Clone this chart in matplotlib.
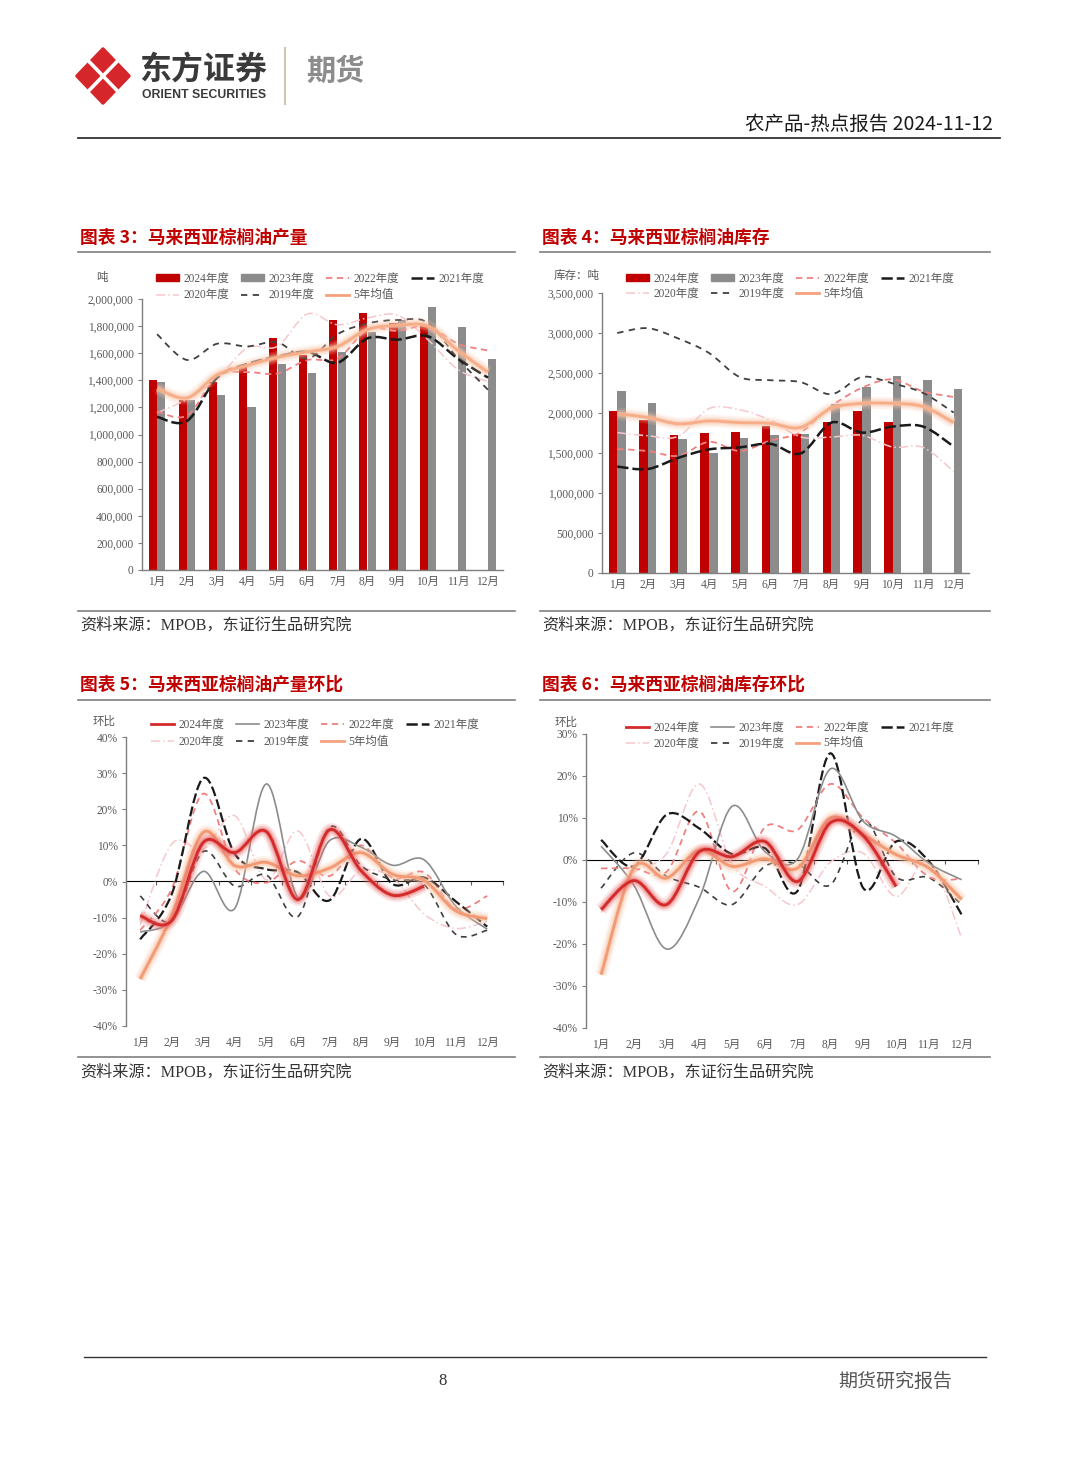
import numpy as np
import matplotlib
matplotlib.use('Agg')
import matplotlib.pyplot as plt
from matplotlib.path import Path
from matplotlib.patches import PathPatch, Polygon, Patch
from matplotlib.lines import Line2D
import matplotlib.patheffects as pe
from matplotlib.ticker import FuncFormatter, MultipleLocator

CJK = 'Noto Sans CJK SC'
SERIF = ['Liberation Serif', CJK]
plt.rcParams['font.family'] = [CJK, 'DejaVu Sans']

# ---------------- data ----------------
months = ['1月', '2月', '3月', '4月', '5月', '6月', '7月', '8月', '9月', '10月', '11月', '12月']
years = ['2024年度', '2023年度', '2022年度', '2021年度', '2020年度', '2019年度', '5年均值']

# Chart 3: Malaysia palm oil production (tonnes)
prod_2024 = [1400000, 1255000, 1388000, 1495000, 1710000, 1590000, 1845000, 1893000, 1825000, 1800000]
prod_2023 = [1385000, 1255000, 1290000, 1200000, 1518000, 1452000, 1610000, 1757000, 1845000, 1940000, 1790000, 1555000]
prod_2022 = [1170000, 1140000, 1430000, 1460000, 1450000, 1550000, 1560000, 1775000, 1765000, 1800000, 1670000, 1620000]
prod_2021 = [1130000, 1100000, 1420000, 1520000, 1575000, 1610000, 1530000, 1710000, 1700000, 1725000, 1560000, 1420000]
prod_2020 = [1160000, 1260000, 1410000, 1640000, 1650000, 1890000, 1810000, 1860000, 1880000, 1700000, 1480000, 1390000]
prod_2019 = [1740000, 1550000, 1670000, 1650000, 1680000, 1560000, 1740000, 1820000, 1845000, 1825000, 1560000, 1330000]
prod_avg = [1340000, 1270000, 1440000, 1510000, 1570000, 1610000, 1650000, 1775000, 1805000, 1800000, 1620000, 1460000]

# Chart 4: Malaysia palm oil stocks (tonnes)
stk_2024 = [2025000, 1917000, 1720000, 1754000, 1763000, 1840000, 1733000, 1888000, 2020000, 1888000]
stk_2023 = [2275000, 2125000, 1680000, 1505000, 1690000, 1730000, 1740000, 2117000, 2325000, 2458000, 2417000, 2304000]
stk_2022 = [1550000, 1525000, 1465000, 1640000, 1525000, 1655000, 1760000, 2085000, 2315000, 2420000, 2270000, 2200000]
stk_2021 = [1330000, 1300000, 1440000, 1545000, 1570000, 1615000, 1495000, 1880000, 1755000, 1830000, 1830000, 1580000]
stk_2020 = [1755000, 1715000, 1710000, 2055000, 2040000, 1910000, 1700000, 1700000, 1720000, 1575000, 1570000, 1270000]
stk_2019 = [3000000, 3060000, 2930000, 2750000, 2450000, 2410000, 2385000, 2235000, 2450000, 2370000, 2250000, 2005000]
stk_avg = [1990000, 1945000, 1865000, 1900000, 1880000, 1870000, 1820000, 2060000, 2120000, 2120000, 2080000, 1880000]

# Chart 5: production month-on-month (%)
pmom_2024 = [-9.5, -10.8, 10.8, 8.0, 13.8, -5.0, 14.3, 3.0, -3.8, -1.3]
pmom_2023 = [-14.0, -11.0, 2.8, -7.4, 27.0, -4.4, 11.3, 9.5, 4.5, 6.0, -6.8, -13.2]
pmom_2022 = [-13.5, -2.0, 24.3, 3.5, -0.3, 5.7, 1.5, 10.0, 1.0, 2.5, -7.5, -4.0]
pmom_2021 = [-16.0, -3.5, 28.6, 7.6, 3.4, 2.5, -5.2, 11.8, -0.7, 1.1, -5.5, -12.5]
pmom_2020 = [-12.0, 10.4, 9.0, 18.2, 0.5, 14.0, -4.0, 3.0, 1.0, -9.0, -13.0, -11.0]
pmom_2019 = [-4.0, -11.0, 8.3, -1.3, 1.8, -9.7, 15.0, 4.4, 0.5, -0.8, -14.6, -13.5]
pmom_avg = [-27.0, -9.5, 13.6, 4.4, 5.3, 1.6, 3.7, 8.0, 2.0, 0.3, -8.1, -10.3]

# Chart 6: stocks month-on-month (%)
smom_2024 = [-11.8, -4.9, -10.6, 2.0, 0.8, 4.4, -5.1, 8.9, 5.8, -6.3]
smom_2023 = [3.3, -6.0, -21.2, -9.0, 12.8, 2.0, 0.3, 21.7, 9.2, 5.6, -0.8, -4.7]
smom_2022 = [-2.0, -2.0, -2.8, 11.6, -7.5, 7.8, 7.2, 18.1, 10.0, 4.0, -4.0, -4.5]
smom_2021 = [4.8, -1.5, 10.8, 7.5, 1.4, 2.8, -7.3, 25.4, -6.7, 4.4, -0.3, -13.0]
smom_2020 = [-12.5, -3.0, 1.5, 18.1, -1.0, -6.3, -10.6, -0.5, 1.6, -8.7, -0.3, -18.5]
smom_2019 = [-6.7, 1.7, -3.9, -6.5, -10.6, -1.5, -1.0, -5.9, 9.6, -4.0, -4.2, -10.6]
smom_avg = [-27.3, -1.9, -4.3, 2.3, -1.5, 0.3, -1.9, 10.0, 6.0, 1.3, -1.9, -9.4]

# ---------------- styles ----------------
C24 = '#C00000'
C23 = '#8C8C8C'
C22 = '#F08080'
C21 = '#1A1A1A'
C20 = '#F6C7CC'
C19 = '#404040'
CAVG = '#F5A27C'
TXT = '#595959'
FS = 8.3

W, H = 1080, 1466
fig = plt.figure(figsize=(W / 100, H / 100), dpi=100)
fig.patch.set_facecolor('white')


def fx(px):
    return px / W


def fy(py):
    return 1 - py / H


def rect(l, t, r, b):
    return [l / W, 1 - b / H, (r - l) / W, (b - t) / H]


def smooth_path(xs, ys):
    pts = np.column_stack([xs, ys]).astype(float)
    n = len(pts)
    verts = [pts[0]]
    codes = [Path.MOVETO]
    for i in range(n - 1):
        p0 = pts[i - 1] if i > 0 else pts[i]
        p1 = pts[i]
        p2 = pts[i + 1]
        p3 = pts[i + 2] if i + 2 < n else pts[i + 1]
        c1 = p1 + (p2 - p0) / 6.0
        c2 = p2 - (p3 - p1) / 6.0
        verts += [c1, c2, p2]
        codes += [Path.CURVE4] * 3
    return Path(verts, codes)


def draw_line(ax, ys, color, lw, ls='-', glow=None, z=3):
    xs = np.arange(len(ys))
    patch = PathPatch(smooth_path(xs, ys), fill=False, edgecolor=color, lw=lw,
                      linestyle=ls, zorder=z, capstyle='butt', joinstyle='round')
    if glow is not None:
        patch.set_path_effects([
            pe.Stroke(linewidth=lw + 7, foreground=glow, alpha=0.18),
            pe.Stroke(linewidth=lw + 4, foreground=glow, alpha=0.3),
            pe.Stroke(linewidth=lw + 1.5, foreground=glow, alpha=0.5),
            pe.Normal()])
    ax.add_patch(patch)


LS22 = (0, (3.5, 2.5))
LS21 = (0, (4.5, 1.6))
LS20 = (0, (6, 2, 1, 2))
LS19 = (0, (3.5, 3.0))


def line_handles(first_handles):
    h22 = Line2D([], [], color=C22, lw=1.3, ls=LS22)
    h21 = Line2D([], [], color=C21, lw=1.8, ls=LS21)
    h20 = Line2D([], [], color=C20, lw=1.1, ls=LS20)
    h19 = Line2D([], [], color=C19, lw=1.3, ls=LS19)
    havg = Line2D([], [], color=CAVG, lw=2.0)
    h24, h23 = first_handles
    hs = [h24, h20, h23, h19, h22, havg, h21]
    labs = [years[0], years[4], years[1], years[5], years[2], years[6], years[3]]
    return hs, labs


def style_axes(ax, xlim):
    ax.set_xlim(*xlim)
    for s in ['top', 'right']:
        ax.spines[s].set_visible(False)
    for s in ['left', 'bottom']:
        ax.spines[s].set_color('#7F7F7F')
        ax.spines[s].set_linewidth(1.0)
    ax.set_xticks(np.arange(12))
    ax.set_xticklabels(months, family=SERIF, fontsize=FS, color=TXT)
    ax.tick_params(axis='x', length=0, pad=4)
    ax.tick_params(axis='y', length=3, width=0.8, color='#7F7F7F', pad=3,
                   labelsize=FS, labelcolor=TXT)
    for lab in ax.get_yticklabels():
        lab.set_family(SERIF)
    ax.set_facecolor('none')


def add_legend(ax, hs, labs, x, y, colspace, lsp):
    ax.legend(hs, labs, ncol=4, loc='upper left', bbox_to_anchor=(fx(x), fy(y)),
              bbox_transform=fig.transFigure, frameon=False,
              prop={'family': SERIF, 'size': FS}, handlelength=2.0, handleheight=0.55,
              handletextpad=0.35, columnspacing=colspace, borderpad=0, borderaxespad=0,
              labelspacing=lsp, labelcolor=TXT)


# ---------------- chart 3: production bars ----------------
ax1 = fig.add_axes(rect(142, 299, 503, 570))
x24 = np.arange(len(prod_2024))
x23 = np.arange(len(prod_2023))
ax1.bar(x24 - 0.14, prod_2024, width=0.27, color=C24, zorder=2)
ax1.bar(x23 + 0.14, prod_2023, width=0.27, color=C23, zorder=2)
draw_line(ax1, prod_2020, C20, 1.1, LS20)
draw_line(ax1, prod_2022, C22, 1.3, LS22)
draw_line(ax1, prod_2019, C19, 1.3, LS19)
draw_line(ax1, prod_2021, C21, 1.8, LS21)
draw_line(ax1, prod_avg, '#F7AE88', 2.0, glow='#F9C4A8', z=4)
ax1.set_ylim(0, 2000000)
ax1.yaxis.set_major_locator(MultipleLocator(200000))
ax1.yaxis.set_major_formatter(FuncFormatter(lambda v, p: f'{v:,.0f}'))
style_axes(ax1, (-0.5, 11.5))
hs, labs = line_handles([Patch(color=C24), Patch(color=C23)])
add_legend(ax1, hs, labs, 156, 273, 1.05, 0.38)
fig.text(fx(96), fy(278), '吨', fontsize=FS, color=TXT, va='center')

# ---------------- chart 4: stocks bars ----------------
ax2 = fig.add_axes(rect(602, 293, 969, 573))
s24 = np.arange(len(stk_2024))
s23 = np.arange(len(stk_2023))
ax2.bar(s24 - 0.14, stk_2024, width=0.28, color=C24, zorder=2)
ax2.bar(s23 + 0.14, stk_2023, width=0.28, color=C23, zorder=2)
draw_line(ax2, stk_2020, C20, 1.1, LS20)
draw_line(ax2, stk_2022, C22, 1.3, LS22)
draw_line(ax2, stk_2019, C19, 1.3, LS19)
draw_line(ax2, stk_2021, C21, 1.8, LS21)
draw_line(ax2, stk_avg, '#F7AE88', 2.0, glow='#F9C4A8', z=4)
ax2.set_ylim(0, 3500000)
ax2.yaxis.set_major_locator(MultipleLocator(500000))
ax2.yaxis.set_major_formatter(FuncFormatter(lambda v, p: f'{v:,.0f}'))
style_axes(ax2, (-0.5, 11.5))
hs, labs = line_handles([Patch(color=C24), Patch(color=C23)])
add_legend(ax2, hs, labs, 626, 273, 1.05, 0.22)
fig.text(fx(554), fy(275), '库存：吨', fontsize=FS, color=TXT, va='center')


# ---------------- MoM charts ----------------
def mom_chart(r, data, ylim, xlim, legxy, lsp, unitxy):
    ax = fig.add_axes(r)
    d24, d23, d22, d21, d20, d19, davg = data
    draw_line(ax, d20, C20, 1.1, LS20)
    draw_line(ax, d19, C19, 1.2, LS19)
    draw_line(ax, d22, C22, 1.3, LS22)
    draw_line(ax, d21, C21, 1.6, LS21)
    draw_line(ax, d23, C23, 1.2)
    draw_line(ax, davg, '#F39A74', 2.0, glow='#F8C0A0', z=4)
    draw_line(ax, d24, '#D42A2A', 2.0, glow='#E86A6A', z=5)
    ax.set_ylim(*ylim)
    ax.yaxis.set_major_locator(MultipleLocator(10))
    ax.yaxis.set_major_formatter(FuncFormatter(lambda v, p: f'{v:.0f}%'))
    style_axes(ax, xlim)
    ax.spines['bottom'].set_visible(False)
    ax.tick_params(axis='x', pad=8)
    loc = (0 - ylim[0]) / (ylim[1] - ylim[0])
    sec = ax.secondary_xaxis(loc)
    sec.set_xticks(np.arange(12) + 0.5)
    sec.set_xticklabels([''] * 12)
    sec.tick_params(axis='x', direction='in', length=3, width=0.8, color='#595959')
    sec.spines['bottom'].set_color('#595959')
    sec.spines['bottom'].set_linewidth(1.0)
    h24 = Line2D([], [], color='#D42A2A', lw=2.0)
    h23 = Line2D([], [], color=C23, lw=1.2)
    hs, labs = line_handles([h24, h23])
    add_legend(ax, hs, labs, legxy[0], legxy[1], 1.05, lsp)
    fig.text(fx(unitxy[0]), fy(unitxy[1]), '环比', fontsize=FS, color=TXT, va='center')
    return ax


ax3 = mom_chart(rect(126, 737, 503, 1026),
                [pmom_2024, pmom_2023, pmom_2022, pmom_2021, pmom_2020, pmom_2019, pmom_avg],
                (-40, 40), (-0.45, 11.5), (151, 719), 0.42, (93, 721))
ax4 = mom_chart(rect(586, 734, 978, 1028),
                [smom_2024, smom_2023, smom_2022, smom_2021, smom_2020, smom_2019, smom_avg],
                (-40, 30), (-0.46, 11.5), (626, 722), 0.3, (555, 722))

# ---------------- page furniture ----------------
def hline(y, x0, x1, color, lw):
    fig.add_artist(Line2D([fx(x0), fx(x1)], [fy(y), fy(y)], color=color, lw=lw,
                          transform=fig.transFigure))


# logo
RED = '#D5262C'
for cx, cy, hx, hy in [(103, 61.5, 12, 12.5), (103, 90.5, 12, 12.5), (89, 76, 12, 12.5), (117, 76, 12, 12.5)]:
    pts = [(fx(cx), fy(cy - hy)), (fx(cx + hx), fy(cy)), (fx(cx), fy(cy + hy)), (fx(cx - hx), fy(cy))]
    fig.add_artist(Polygon(pts, closed=True, facecolor=RED, edgecolor=RED, lw=2.5,
                           joinstyle='round', transform=fig.transFigure))
for (xa, ya, xb, yb) in [(76, 48, 130, 104), (130, 48, 76, 104)]:
    fig.add_artist(Line2D([fx(xa), fx(xb)], [fy(ya), fy(yb)], color='white', lw=2.6,
                          transform=fig.transFigure))
fig.text(fx(139), fy(71), '东方证券', fontsize=23, weight='bold', color='#3A3A3A', va='center')
fig.text(fx(142), fy(95), 'ORIENT SECURITIES', fontsize=8.8, weight='bold', color='#3A3A3A',
         va='center', family='Liberation Sans')
fig.add_artist(Line2D([fx(285), fx(285)], [fy(48), fy(104)], color='#CFC6B4', lw=1.5,
                      transform=fig.transFigure))
fig.text(fx(306), fy(71), '期货', fontsize=21, weight='bold', color='#8C8C8C', va='center')

fig.text(fx(993), fy(124), '农产品-热点报告 2024-11-12', fontsize=14, color='#1A1A1A',
         ha='right', va='center')
hline(138, 78, 1000, '#333333', 1.3)

titles = [(80, 238, '图表 3：马来西亚棕榈油产量'), (542, 238, '图表 4：马来西亚棕榈油库存'),
          (80, 685, '图表 5：马来西亚棕榈油产量环比'), (542, 685, '图表 6：马来西亚棕榈油库存环比')]
for x, y, t in titles:
    fig.text(fx(x), fy(y), t, fontsize=12.8, weight='bold', color='#C00000', va='center')

for y in (252, 700):
    hline(y, 78, 515, '#7F7F7F', 1.2)
    hline(y, 540, 990, '#7F7F7F', 1.2)
for y in (611, 1057):
    hline(y, 78, 515, '#7F7F7F', 1.2)
    hline(y, 540, 990, '#7F7F7F', 1.2)

for x, y in [(80, 626), (542, 626), (80, 1073), (542, 1073)]:
    fig.text(fx(x), fy(y), '资料来源：MPOB，东证衍生品研究院', fontsize=11.6, color='#333333',
             va='center', family=SERIF)

hline(1357, 84, 986, '#333333', 1.0)
fig.text(fx(443), fy(1381), '8', fontsize=12, color='#333333', ha='center', va='center',
         family='Liberation Serif')
fig.text(fx(952), fy(1381), '期货研究报告', fontsize=13.7, color='#555555', ha='right', va='center')

fig.savefig('out.png', dpi=100, facecolor='white')
